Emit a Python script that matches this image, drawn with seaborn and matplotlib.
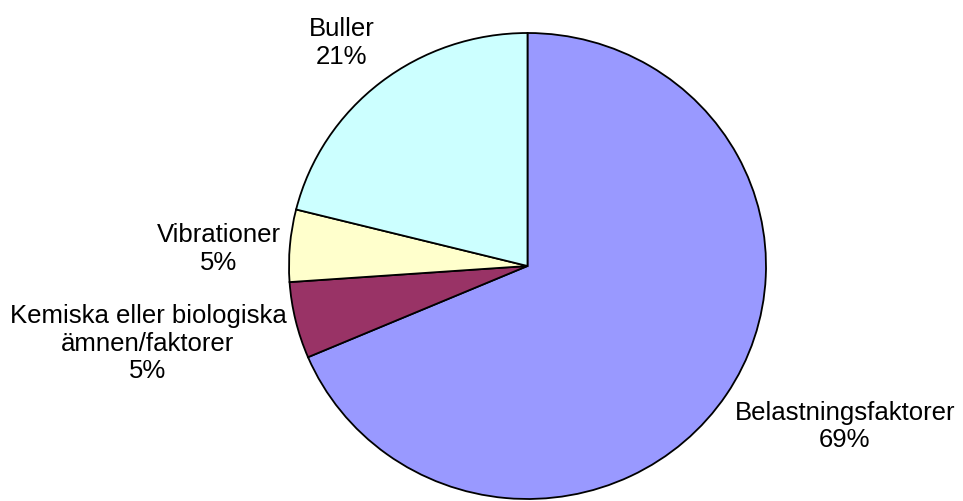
import numpy as np
import matplotlib
matplotlib.use("Agg")
import matplotlib.pyplot as plt
import seaborn as sns

# slices in clockwise order starting at 12 o'clock
categories = ["Belastningsfaktorer", "Kemiska eller biologiska\nämnen/faktorer",
              "Vibrationer", "Buller"]
shares = [68.6, 5.3, 5.0, 21.1]
colors = ["#9999FF", "#993366", "#FFFFCC", "#CCFFFF"]

sns.set_theme(style="white")
plt.rcParams['font.family'] = ['Liberation Sans', 'DejaVu Sans']

fig = plt.figure(figsize=(9.63, 5.02), dpi=100)
ax = fig.add_axes([0, 0, 1, 1])

total = sum(shares)
labels = [f"{c}\n{v / total * 100:.0f}%" for c, v in zip(categories, shares)]

wedges, texts = ax.pie(
    shares, colors=colors, startangle=90, counterclock=False,
    labels=labels, labeldistance=1.04,
    wedgeprops=dict(edgecolor="black", linewidth=1.3),
    textprops=dict(fontsize=18.5, color="black", multialignment="center"),
)

# the source picture is slightly squashed vertically
rx_px, ry_px = 238.5, 233.0
cx, cy = 527.5, 502 - 267.0

# Excel-like label anchoring: above/below the rim for top/bottom slices,
# small nudges (in px) to match the original placement
for w, t in zip(wedges, texts):
    mid = np.deg2rad((w.theta1 + w.theta2) / 2)
    s = np.sin(mid)
    dy = 0
    if s > 0.5:
        t.set_va("bottom")
        dy = 7
    elif s < -0.5:
        t.set_va("top")
    else:
        t.set_va("center")
        dy = -20 if s < -0.2 else -3
    x, y = t.get_position()
    t.set_position((x, y + dy / ry_px))

ax.set_aspect("auto")
ax.set_xlim(-cx / rx_px, (963 - cx) / rx_px)
ax.set_ylim(-cy / ry_px, (502 - cy) / ry_px)
ax.axis("off")

fig.savefig("out.png", dpi=100, facecolor="white")
